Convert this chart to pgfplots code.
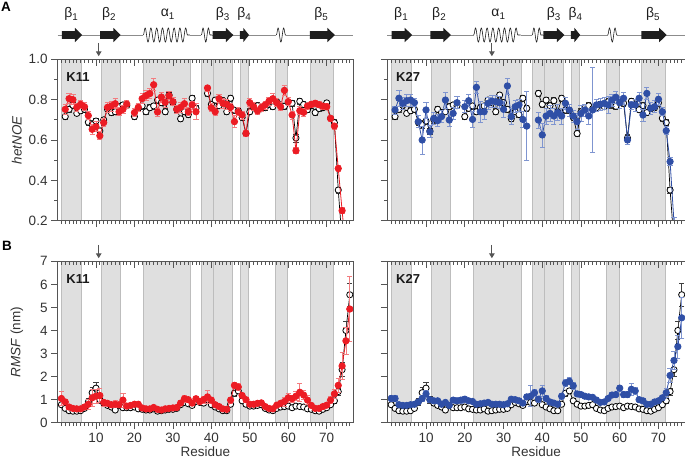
\documentclass[border=0pt]{standalone}
\usepackage{fontspec}
\setmainfont{Liberation Sans}
\usepackage{pgfplots}
\usepackage{pgfplotstable}
\pgfplotsset{compat=1.18}
\usetikzlibrary{decorations.pathmorphing,arrows.meta}

\definecolor{kred}{HTML}{EC1C24}
\definecolor{kredlight}{HTML}{F37C7F}
\definecolor{kblue}{HTML}{2F4FA6}
\definecolor{kbluelight}{HTML}{7F95D0}
\definecolor{axcol}{HTML}{555555}
\definecolor{labcol}{HTML}{333333}
\definecolor{bandfill}{HTML}{DFDFDF}
\definecolor{bandedge}{HTML}{BDBDBD}
\definecolor{sscol}{HTML}{1E1E1E}
\definecolor{linecol}{HTML}{8C8C8C}
\definecolor{arrcol}{HTML}{555555}

\newcommand\fs{\fontsize{13.5}{16}\selectfont}
\newcommand\gs{\fontsize{14}{16}\selectfont}

% ---------------- hetNOE data ----------------
\pgfplotstableread{
r v e
2 0.716 0.012
3 0.752 0.015
4 0.772 0.015
5 0.732 0.012
6 0.745 0.015
7 0.752 0.015
8 0.688 0.015
9 0.676 0.020
10 0.694 0.015
11 0.645 0.015
12 0.700 0.015
13 0.752 0.015
14 0.736 0.015
15 0.740 0.015
16 0.765 0.015
17 0.774 0.015
18 0.770 0.015
19 nan nan
20 0.716 0.012
21 0.757 0.015
22 0.769 0.015
23 0.740 0.015
24 0.760 0.015
25 0.769 0.015
26 0.798 0.015
27 0.785 0.015
28 0.740 0.015
29 0.823 0.015
30 0.785 0.015
31 0.752 0.015
32 0.705 0.012
33 0.740 0.015
34 0.726 0.015
35 0.807 0.015
36 0.757 0.015
37 nan nan
38 nan nan
39 0.831 0.015
40 0.777 0.015
41 0.798 0.015
42 0.770 0.015
43 0.795 0.015
44 0.740 0.015
45 0.807 0.015
46 0.748 0.015
47 0.746 0.015
48 0.712 0.015
49 0.632 0.015
50 0.740 0.015
51 0.760 0.015
52 0.770 0.015
53 0.755 0.015
54 0.760 0.015
55 0.777 0.015
56 0.765 0.015
57 0.790 0.015
58 0.774 0.015
59 0.767 0.015
60 0.785 0.015
61 0.782 0.015
62 0.610 0.020
63 0.792 0.015
64 0.776 0.015
65 0.750 0.015
66 0.770 0.015
67 0.736 0.015
68 0.756 0.015
69 0.760 0.015
70 0.784 0.015
71 0.708 0.015
72 0.686 0.015
73 0.352 0.015
74 0.100 0.020
}\hetRef

\pgfplotstableread{
r v e
2 0.752 0.025
3 0.805 0.025
4 0.800 0.025
5 0.762 0.020
6 0.777 0.020
7 0.765 0.020
8 0.721 0.020
9 0.653 0.025
10 0.666 0.025
11 0.621 0.020
12 0.686 0.020
13 0.762 0.025
14 0.769 0.025
15 0.780 0.025
16 0.740 0.020
17 0.752 0.020
18 0.778 0.020
19 nan nan
20 0.736 0.020
21 0.762 0.020
22 0.805 0.025
23 0.820 0.025
24 0.830 0.025
25 0.874 0.030
26 0.739 0.020
27 0.813 0.025
28 0.787 0.025
29 0.820 0.020
30 0.790 0.020
31 0.752 0.020
32 0.762 0.025
33 0.780 0.025
34 0.740 0.020
35 0.774 0.020
36 0.740 0.040
37 nan nan
38 nan nan
39 0.858 0.015
40 0.760 0.020
41 0.740 0.020
42 0.805 0.020
43 0.782 0.025
44 0.777 0.025
45 0.762 0.020
46 0.691 0.030
47 0.740 0.020
48 0.724 0.020
49 0.633 0.015
50 0.785 0.020
51 0.765 0.020
52 0.744 0.015
53 0.760 0.020
54 0.774 0.020
55 0.793 0.020
56 0.805 0.025
57 0.785 0.020
58 0.765 0.020
59 0.846 0.025
60 0.790 0.020
61 0.724 0.020
62 0.547 0.015
63 0.745 0.020
64 0.737 0.020
65 0.769 0.015
66 0.777 0.015
67 0.782 0.015
68 0.775 0.015
69 0.768 0.015
70 0.765 0.015
71 0.707 0.015
72 0.669 0.015
73 0.459 0.015
74 0.250 0.015
75 0.050 0.010
}\hetK

\pgfplotstableread{
r v e
2 0.749 0.020
3 0.807 0.040
4 0.782 0.030
5 0.795 0.030
6 0.798 0.030
7 0.785 0.020
8 0.691 0.030
9 0.600 0.070
10 0.749 0.040
11 0.641 0.030
12 0.707 0.030
13 0.696 0.030
14 0.716 0.030
15 0.798 0.040
16 0.699 0.030
17 0.732 0.030
18 0.785 0.030
19 nan nan
20 0.765 0.030
21 0.795 0.030
22 0.702 0.040
23 0.861 0.030
24 0.740 0.050
25 0.740 0.040
26 0.782 0.030
27 0.793 0.030
28 0.790 0.030
29 0.785 0.030
30 0.752 0.040
31 0.868 0.040
32 0.716 0.040
33 0.765 0.030
34 0.774 0.030
35 0.702 0.040
36 0.669 0.170
37 nan nan
38 nan nan
39 0.699 0.040
40 0.625 0.060
41 0.719 0.040
42 0.732 0.040
43 0.719 0.040
44 0.736 0.040
45 0.719 0.040
46 0.782 0.030
47 0.749 0.030
48 0.719 0.030
49 0.691 0.040
50 0.732 0.040
51 0.749 0.030
52 0.719 0.040
53 0.749 0.210
54 0.774 0.030
55 0.777 0.030
56 0.782 0.030
57 0.774 0.040
58 0.798 0.030
59 0.812 0.030
60 0.785 0.030
61 0.807 0.030
62 0.600 0.020
63 0.774 0.020
64 0.774 0.030
65 0.807 0.030
66 0.724 0.030
67 0.831 0.030
68 0.757 0.030
69 0.765 0.030
70 0.802 0.030
71 0.740 0.020
72 0.646 0.020
73 0.493 0.020
74 0.195 0.020
}\hetB

% ---------------- RMSF data ----------------
\pgfplotstableread{
r v e
1 0.78 0.08
2 0.62 0.06
3 0.52 0.05
4 0.50 0.05
5 0.50 0.05
6 0.52 0.05
7 0.62 0.08
8 0.90 0.15
9 1.30 0.25
10 1.50 0.25
11 1.00 0.15
12 0.85 0.10
13 0.75 0.08
14 0.68 0.08
15 0.55 0.06
16 0.75 0.10
17 0.65 0.08
18 0.65 0.08
19 0.65 0.08
20 0.68 0.08
21 0.60 0.06
22 0.58 0.06
23 0.55 0.05
24 0.55 0.05
25 0.60 0.06
26 0.50 0.05
27 0.52 0.05
28 0.55 0.05
29 0.58 0.06
30 0.58 0.06
31 0.62 0.06
32 0.78 0.08
33 0.88 0.10
34 0.82 0.08
35 0.75 0.08
36 0.92 0.10
37 0.88 0.10
38 0.85 0.10
39 1.00 0.12
40 0.78 0.08
41 0.68 0.06
42 0.60 0.06
43 0.52 0.05
44 0.52 0.05
45 0.80 0.10
46 1.28 0.12
47 1.38 0.12
48 0.95 0.10
49 0.80 0.08
50 0.72 0.06
51 0.72 0.06
52 0.75 0.06
53 0.78 0.06
54 0.62 0.06
55 0.55 0.05
56 0.52 0.05
57 0.62 0.06
58 0.68 0.06
59 0.70 0.06
60 0.72 0.06
61 0.65 0.06
62 0.72 0.06
63 0.70 0.06
64 0.68 0.06
65 0.60 0.06
66 0.58 0.05
67 0.52 0.05
68 0.50 0.05
69 0.58 0.05
70 0.65 0.06
71 0.78 0.08
72 0.95 0.10
73 1.35 0.15
74 2.30 0.30
75 4.00 0.40
76 5.55 0.50
}\rmsfRef

\pgfplotstableread{
r v e
1 1.05 0.30
2 0.90 0.10
3 0.68 0.08
4 0.62 0.06
5 0.60 0.06
6 0.60 0.06
7 0.68 0.10
8 0.80 0.20
9 1.08 0.35
10 1.15 0.30
11 1.18 0.30
12 0.88 0.15
13 0.84 0.10
14 0.78 0.10
15 0.80 0.15
16 0.78 0.10
17 0.98 0.30
18 0.72 0.10
19 0.75 0.10
20 0.80 0.10
21 0.80 0.10
22 0.64 0.06
23 0.60 0.06
24 0.60 0.06
25 0.66 0.06
26 0.58 0.06
27 0.55 0.06
28 0.60 0.06
29 0.62 0.06
30 0.64 0.06
31 0.66 0.06
32 0.85 0.10
33 1.04 0.15
34 1.00 0.12
35 0.85 0.10
36 1.04 0.12
37 0.92 0.12
38 1.00 0.15
39 1.12 0.30
40 0.98 0.12
41 0.78 0.10
42 0.70 0.08
43 0.60 0.06
44 0.58 0.06
45 0.98 0.12
46 1.62 0.15
47 1.55 0.15
48 1.18 0.10
49 1.00 0.10
50 0.80 0.08
51 0.80 0.08
52 0.84 0.08
53 0.86 0.08
54 0.70 0.08
55 0.62 0.06
56 0.60 0.06
57 0.76 0.08
58 0.84 0.10
59 0.92 0.20
60 1.08 0.20
61 1.04 0.15
62 1.15 0.20
63 1.32 0.40
64 1.20 0.20
65 0.98 0.20
66 0.75 0.10
67 0.62 0.08
68 0.62 0.08
69 0.70 0.10
70 0.76 0.10
71 0.98 0.15
72 1.25 0.20
73 1.62 0.30
74 2.46 0.60
75 3.55 0.60
76 4.93 1.40
}\rmsfK

\pgfplotstableread{
r v e
1 1.05 0.12
2 1.05 0.12
3 0.78 0.08
4 0.75 0.08
5 0.75 0.08
6 0.78 0.08
7 0.80 0.08
8 0.90 0.10
9 1.05 0.12
10 1.25 0.15
11 1.00 0.12
12 0.95 0.10
13 0.95 0.10
14 0.80 0.10
15 0.88 0.10
16 0.75 0.08
17 0.98 0.10
18 0.95 0.10
19 0.98 0.12
20 1.02 0.12
21 0.95 0.10
22 0.92 0.10
23 0.80 0.08
24 0.82 0.08
25 0.85 0.08
26 0.88 0.08
27 0.80 0.08
28 0.80 0.08
29 0.80 0.08
30 0.78 0.08
31 0.82 0.08
32 1.02 0.10
33 1.00 0.10
34 0.95 0.10
35 0.85 0.10
36 1.12 0.12
37 1.15 0.45
38 1.30 0.15
39 1.02 0.12
40 1.38 0.25
41 1.05 0.12
42 0.90 0.10
43 0.85 0.10
44 0.80 0.08
45 1.15 0.12
46 1.72 0.15
47 1.80 0.15
48 1.60 0.15
49 1.25 0.12
50 1.22 0.10
51 1.15 0.10
52 1.12 0.10
53 1.10 0.10
54 0.98 0.10
55 0.88 0.10
56 0.90 0.10
57 1.05 0.10
58 1.20 0.10
59 1.22 0.10
60 1.50 0.12
61 1.22 0.12
62 1.22 0.12
63 1.45 0.25
64 1.38 0.15
65 1.00 0.10
66 0.95 0.10
67 0.80 0.08
68 0.80 0.08
69 0.90 0.10
70 0.95 0.10
71 1.08 0.12
72 1.30 0.20
73 2.05 0.30
74 2.70 0.40
75 3.30 0.50
76 4.55 0.90
}\rmsfB

\pgfplotsset{
  panel/.style={
    scale only axis, height=161.4pt, xmin=0, xmax=76.85,
    anchor=south west,
    axis on top, clip mode=individual, unbounded coords=jump,
    axis line style={axcol, line width=0.9pt},
    every tick/.style={axcol, line width=0.8pt},
    tick align=outside, xtick pos=left, ytick pos=left,
    xtick={10,20,30,40,50,60,70}, minor xtick={1,...,76},
    major tick length=6.5pt, minor tick length=3.5pt,
    tick label style={font=\fs, text=labcol},
    /pgf/number format/assume math mode=true,
    ylabel style={at={(axis description cs:-0.138,0.5)}, anchor=center, font=\fs, text=labcol},
    xlabel style={at={(axis description cs:0.5,-0.18)}, anchor=center, font=\fs, text=labcol},
  },
  toppanel/.style={ymin=0.2, ymax=1.0, ytick={0.2,0.4,0.6,0.8,1.0}, minor ytick={0.3,0.5,0.7,0.9},
    yticklabel style={/pgf/number format/.cd, fixed, fixed zerofill, precision=1},
    xticklabels={}},
  botpanel/.style={ymin=0, ymax=7, ytick={0,1,2,3,4,5,6,7}, xlabel={Residue}},
  topticks/.style={scale only axis, height=161.4pt, xmin=0, xmax=76.85, ymin=0, ymax=1,
    anchor=south west,
    axis line style={draw=none}, every tick/.style={axcol, line width=0.8pt},
    tick align=inside, xtick pos=right, xtick={10,20,30,40,50,60,70}, minor xtick={1,...,76},
    xticklabels={}, ytick=\empty, minor ytick=\empty,
    major tick length=6.5pt, minor tick length=3.5pt},
  refplot/.style={black, line width=0.7pt, mark=*, mark size=3.1pt,
    mark options={solid, fill=white, draw=black, line width=0.8pt},
    error bars/.cd, y dir=both, y explicit,
    error bar style={black!75, line width=0.6pt},
    error mark options={rotate=90, black!75, mark size=2.6pt, line width=0.6pt}},
  redplot/.style={kred, line width=0.8pt, mark=*, mark size=3.2pt,
    mark options={solid, fill=kred, draw=kred},
    error bars/.cd, y dir=both, y explicit,
    error bar style={kredlight, line width=0.7pt},
    error mark options={rotate=90, kredlight, mark size=2.6pt, line width=0.7pt}},
  blueplot/.style={kblue, line width=0.8pt, mark=*, mark size=3.2pt,
    mark options={solid, fill=kblue, draw=kblue},
    error bars/.cd, y dir=both, y explicit,
    error bar style={kbluelight, line width=0.7pt},
    error mark options={rotate=90, kbluelight, mark size=2.6pt, line width=0.7pt}},
}

\newcommand\band[4]{\addplot[fill=bandfill, draw=bandedge, line width=0.7pt] coordinates {(#1,#3) (#1,#4) (#2,#4) (#2,#3)} -- cycle;}
\newcommand\bands[2]{%
  \band{1.1}{6.3}{#1}{#2}%
  \band{11.3}{16.4}{#1}{#2}%
  \band{22.3}{34.6}{#1}{#2}%
  \band{37.5}{40.5}{#1}{#2}%
  \band{40.5}{45.5}{#1}{#2}%
  \band{47.5}{49.7}{#1}{#2}%
  \band{56.6}{59.8}{#1}{#2}%
  \band{65.7}{71.7}{#1}{#2}}

% structure arrow: start, head start, tip
\newcommand\sarrow[3]{%
  \fill[sscol] ([yshift=28.1pt]axis cs:#1,1) -- ([yshift=28.1pt]axis cs:#2,1)
    -- ([yshift=31.5pt]axis cs:#2,1) -- ([yshift=24.3pt]axis cs:#3,1)
    -- ([yshift=17.1pt]axis cs:#2,1) -- ([yshift=20.5pt]axis cs:#2,1)
    -- ([yshift=20.5pt]axis cs:#1,1) -- cycle;}
\newcommand\helix[3]{%
  \fill[white] ([yshift=22.8pt]axis cs:#1,1) rectangle ([yshift=25.8pt]axis cs:#2,1);
  \draw[sscol, line width=0.6pt, decorate, decoration={snake, segment length=#3, amplitude=7pt}]
    ([yshift=24.3pt]axis cs:#1,1) -- ([yshift=24.3pt]axis cs:#2,1);}
\newcommand\sstruct{%
  \draw[linecol, line width=1pt] ([yshift=24.3pt]axis cs:0,1) -- ([yshift=24.3pt]axis cs:76.85,1);
  \helix{22.3}{34.4}{5.8pt}
  \helix{37.4}{40.2}{5.4pt}
  \helix{56.9}{59.4}{5.6pt}
  \sarrow{1.1}{4.5}{6.4}
  \sarrow{11.1}{14.5}{16.4}
  \sarrow{40.3}{43.8}{45.7}
  \sarrow{47.4}{48.3}{49.8}
  \sarrow{65.6}{70.2}{72.1}
  \node[font=\gs, text=sscol] at ([yshift=45pt]axis cs:3.6,1) {β\textsubscript{1}};
  \node[font=\gs, text=sscol] at ([yshift=45pt]axis cs:13.4,1) {β\textsubscript{2}};
  \node[font=\gs, text=sscol] at ([yshift=45pt]axis cs:28.7,1) {α\textsubscript{1}};
  \node[font=\gs, text=sscol] at ([yshift=45pt]axis cs:43.0,1) {β\textsubscript{3}};
  \node[font=\gs, text=sscol] at ([yshift=45pt]axis cs:48.6,1) {β\textsubscript{4}};
  \node[font=\gs, text=sscol] at ([yshift=45pt]axis cs:68.6,1) {β\textsubscript{5}};
}
\newcommand\site[2]{%
  \draw[arrcol, line width=1.2pt, -{Triangle[length=5pt,width=5.5pt]}] ([yshift=16.5pt]axis cs:#1,#2) -- ([yshift=3pt]axis cs:#1,#2);}
\newcommand\klabel[1]{\node[font=\bfseries\fontsize{13}{15}\selectfont, text=black!90, anchor=west] at (rel axis cs:0.018,0.892) {#1};}

\begin{document}
\begin{tikzpicture}
\useasboundingbox (0,0) rectangle (685pt,459pt);
\node[font=\bfseries\fs] at (6pt,452.5pt) {A};
\node[font=\bfseries\fs] at (7pt,213.2pt) {B};

% ---------- top left ----------
\begin{axis}[panel, toppanel, at={(57.55pt,238.3pt)}, width=295.5pt, ylabel={\textit{hetNOE}}]
\bands{0.2}{1.0}
\addplot[refplot] table[x=r,y=v,y error=e]{\hetRef};
\addplot[redplot] table[x=r,y=v,y error=e]{\hetK};
\klabel{K11}
\sstruct
\site{10.7}{1}
\end{axis}
\begin{axis}[topticks, at={(57.55pt,238.3pt)}, width=295.5pt]
\end{axis}

% ---------- top right ----------
\begin{axis}[panel, toppanel, at={(387.3pt,238.3pt)}, width=297.7pt, yticklabels={}]
\bands{0.2}{1.0}
\addplot[refplot] table[x=r,y=v,y error=e]{\hetRef};
\addplot[blueplot] table[x=r,y=v,y error=e]{\hetB};
\klabel{K27}
\sstruct
\site{27}{1}
\end{axis}
\begin{axis}[topticks, at={(387.3pt,238.3pt)}, width=297.7pt]
\end{axis}

% ---------- bottom left ----------
\begin{axis}[panel, botpanel, at={(57.55pt,36.3pt)}, width=295.5pt, ylabel={\textit{RMSF} (nm)}]
\bands{0}{7}
\addplot[refplot] table[x=r,y=v,y error=e]{\rmsfRef};
\addplot[redplot] table[x=r,y=v,y error=e]{\rmsfK};
\klabel{K11}
\site{10.7}{7}
\end{axis}
\begin{axis}[topticks, at={(57.55pt,36.3pt)}, width=295.5pt]
\end{axis}

% ---------- bottom right ----------
\begin{axis}[panel, botpanel, at={(387.3pt,36.3pt)}, width=297.7pt, yticklabels={}]
\bands{0}{7}
\addplot[refplot] table[x=r,y=v,y error=e]{\rmsfRef};
\addplot[blueplot] table[x=r,y=v,y error=e]{\rmsfB};
\klabel{K27}
\site{27}{7}
\end{axis}
\begin{axis}[topticks, at={(387.3pt,36.3pt)}, width=297.7pt]
\end{axis}
\end{tikzpicture}
\end{document}
